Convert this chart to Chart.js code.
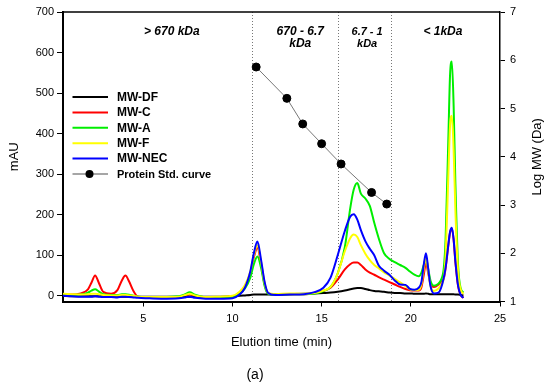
<!DOCTYPE html>
<html>
<head>
<meta charset="utf-8">
<title>Perfil de eluição</title>
<script src="https://cdn.jsdelivr.net/npm/chart.js@4.4.1/dist/chart.umd.min.js"></script>
<style>
    html, body { margin: 0; padding: 0; background: #fff; }
    canvas { display: block; }
</style>
</head>
<body>
<canvas id="grafico" width="550" height="390"></canvas>
<script>
// === Dados lidos do cromatograma ===
// tempos de eluição (min), comuns a todas as séries
const tempos = [0.5, 1.0, 1.5, 1.9, 2.1, 2.3, 2.5, 2.75, 3.2, 3.55,
    3.8, 4.0, 4.2, 4.45, 4.7, 5.2, 6.0, 7.0, 7.35, 7.6,
    7.9, 8.5, 9.3, 10.0, 10.4, 10.7, 11.0, 11.2, 11.4, 11.6,
    11.8, 12.0, 12.4, 13.2, 14.0, 14.6, 15.1, 15.5, 15.9, 16.3,
    16.6, 16.8, 17.0, 17.2, 17.45, 17.7, 17.95, 18.2, 18.5, 18.8,
    19.1, 19.4, 19.7, 19.95, 20.2, 20.45, 20.6, 20.72, 20.85, 20.98,
    21.1, 21.3, 21.55, 21.7, 21.85, 21.95, 22.1, 22.2, 22.3, 22.4,
    22.5, 22.65, 22.8, 22.95];

// absorvância (mAU)
const mwDF = [0, -1, -1, -1, -1, -1, -1, -1, -2, -2,
    -2, -2, -2, -2, -2, -2, -2, -2, -2, -2,
    -2, -2, -2, -1, 0, 1, 2, 3, 3, 3,
    3, 3, 3, 4, 5, 6, 7, 8, 10, 13,
    16, 18, 19, 19, 17, 14, 12, 11, 10, 8,
    7, 7, 6, 6, 5, 5, 5, 5, 6, 5,
    4, 4, 4, 4, 4, 4, 4, 4, 4, 4,
    3, 3, 2, 1];
const mwC = [3, 3, 6, 16, 33, 50, 33, 10, 5, 14,
    38, 50, 36, 12, -2, -4, -4, -3, 0, 3,
    -1, -4, -4, -3, 8, 24, 55, 95, 118, 80,
    30, 6, 3, 4, 4, 7, 12, 20, 40, 65,
    78, 82, 82, 76, 65, 57, 52, 46, 40, 34,
    28, 22, 17, 14, 13, 13, 22, 50, 80, 55,
    30, 22, 28, 35, 43, 68, 123, 156, 166, 138,
    83, 24, 2, -5];
const mwA = [2, 2, 3, 8, 13, 16, 11, 4, 2, 2,
    4, 4, 3, 0, -2, -3, -3, -1, 4, 9,
    3, -3, -3, -3, 5, 18, 45, 78, 97, 70,
    25, 5, 3, 4, 4, 6, 12, 22, 55, 120,
    215, 262, 278, 252, 240, 222, 180, 142, 105, 91,
    83, 76, 69, 60, 52, 48, 58, 75, 92, 65,
    38, 25, 30, 40, 69, 140, 380, 545, 578, 470,
    275, 75, 18, 8];
const mwF = [5, 4, 3, 4, 5, 5, 4, 2, 1, 1,
    2, 2, 1, 0, -2, -3, -3, -2, 2, 5,
    1, -3, -2, 0, 10, 26, 60, 100, 125, 85,
    32, 7, 4, 6, 5, 7, 13, 22, 55, 110,
    142, 151, 145, 125, 104, 88, 76, 68, 58, 50,
    42, 33, 24, 16, 14, 15, 30, 65, 95, 60,
    25, 12, 18, 28, 45, 100, 290, 420, 444, 360,
    210, 60, 15, 5];
const mwNEC = [0, -1, -2, -2, -2, -1, -2, -3, -3, -4,
    -2, -2, -3, -4, -5, -6, -7, -6, -4, -2,
    -5, -7, -7, -6, 3, 20, 60, 105, 134, 90,
    35, 7, 2, 3, 4, 9, 20, 45, 100, 160,
    195, 201, 188, 162, 135, 116, 100, 75, 62, 52,
    38, 28, 27, 17, 15, 20, 35, 75, 105, 65,
    25, 6, 8, 20, 45, 70, 125, 158, 168, 140,
    85, 25, 2, -5];

// curva padrão de proteínas (eixo direito, Log MW)
const curvaTempo = [11.33, 13.05, 13.94, 15.0, 16.09, 17.8, 18.65];
const curvaLogMW = [5.86, 5.21, 4.68, 4.27, 3.85, 3.26, 3.02];

// limites das faixas de massa molecular (min)
const divisoes = [11.1, 15.9, 18.9];
const faixas = [["> 670 kDa"], ["670 - 6.7", "kDa"], ["6.7 - 1", "kDa"], ["< 1kDa"]];

// marcas dos eixos
const xTicks = [5, 10, 15, 20, 25];
const yTicks = [0, 100, 200, 300, 400, 500, 600, 700];
const y2Ticks = [1, 2, 3, 4, 5, 6, 7];

Chart.defaults.font.family = "'Liberation Sans', Arial, sans-serif";
Chart.defaults.color = "#000";

function pontos(xs, ys) {
    return xs.map((x, i) => ({ x: x, y: ys[i] }));
}

function serie(label, valores, cor, ordem) {
    return {
        label: label,
        data: pontos(tempos, valores),
        borderColor: cor,
        backgroundColor: cor,
        borderWidth: 2,
        pointRadius: 0,
        fill: false,
        cubicInterpolationMode: "monotone",
        yAxisID: "y",
        order: ordem,
    };
}

// === Plugin para linhas pontilhadas, rótulos e legenda ===
const extras = {
    id: "extras",
    beforeDatasetsDraw(chart) {
        const { ctx, chartArea: a, scales } = chart;
        ctx.save();
        ctx.strokeStyle = "#777";
        ctx.lineWidth = 1;
        ctx.setLineDash([1, 2]);
        divisoes.forEach((t) => {
            const x = Math.round(scales.x.getPixelForValue(t)) + 0.5;
            ctx.beginPath();
            ctx.moveTo(x, a.top);
            ctx.lineTo(x, a.bottom);
            ctx.stroke();
        });
        ctx.restore();
    },
    afterDraw(chart) {
        const { ctx, chartArea: a, scales } = chart;
        ctx.save();

        // borda superior
        ctx.strokeStyle = "#000";
        ctx.lineWidth = 1.5;
        ctx.beginPath();
        ctx.moveTo(a.left, a.top);
        ctx.lineTo(a.right, a.top);
        ctx.stroke();

        // rótulos das faixas
        const posFaixas = [6.6, 13.8, 17.55, 21.8];
        ctx.fillStyle = "#000";
        ctx.textAlign = "center";
        ctx.textBaseline = "middle";
        faixas.forEach((linhas, i) => {
            ctx.font = (i === 2 ? "italic bold 11px " : "italic bold 12px ") + "'Liberation Sans', Arial, sans-serif";
            const x = scales.x.getPixelForValue(posFaixas[i]);
            linhas.forEach((txt, j) => ctx.fillText(txt, x, 32 + j * 11.5));
        });

        // legenda
        const legX = 72.5, legY = 97, passo = 15.4;
        ctx.textAlign = "left";
        chart.data.datasets.forEach((ds, i) => {
            const y = legY + i * passo;
            if (ds.yAxisID === "y2") {
                ctx.strokeStyle = "#888";
                ctx.lineWidth = 1.5;
                ctx.beginPath();
                ctx.moveTo(legX, y);
                ctx.lineTo(legX + 35.5, y);
                ctx.stroke();
                ctx.fillStyle = "#000";
                ctx.beginPath();
                ctx.arc(legX + 17, y, 4, 0, Math.PI * 2);
                ctx.fill();
                ctx.font = "bold 11px 'Liberation Sans', Arial, sans-serif";
            } else {
                ctx.strokeStyle = ds.borderColor;
                ctx.lineWidth = 2;
                ctx.beginPath();
                ctx.moveTo(legX, y);
                ctx.lineTo(legX + 35.5, y);
                ctx.stroke();
                ctx.font = "bold 12px 'Liberation Sans', Arial, sans-serif";
            }
            ctx.fillStyle = "#000";
            ctx.fillText(ds.label, 117, y + 0.5);
        });

        // título do eixo direito (de baixo para cima)
        ctx.font = "13px 'Liberation Sans', Arial, sans-serif";
        ctx.textAlign = "center";
        ctx.translate(537, (a.top + a.bottom) / 2);
        ctx.rotate(-Math.PI / 2);
        ctx.fillText("Log MW (Da)", 0, 0);
        ctx.setTransform(1, 0, 0, 1, 0, 0);

        // identificação do painel
        ctx.font = "14px 'Liberation Sans', Arial, sans-serif";
        ctx.fillText("(a)", 255, 375);
        ctx.restore();
    },
};

// === Gráfico ===
new Chart("grafico", {
    type: "line",
    data: {
        datasets: [
            serie("MW-DF", mwDF, "#000000", 3),
            serie("MW-C", mwC, "#ff0000", 4),
            serie("MW-A", mwA, "#00ee00", 2),
            serie("MW-F", mwF, "#ffff00", 1),
            serie("MW-NEC", mwNEC, "#0000ff", 0),
            {
                label: "Protein Std. curve",
                data: pontos(curvaTempo, curvaLogMW),
                borderColor: "#777",
                borderWidth: 1,
                pointRadius: 4,
                pointBackgroundColor: "#000",
                pointBorderColor: "#000",
                fill: false,
                tension: 0,
                yAxisID: "y2",
                order: -1,
            },
        ],
    },
    options: {
        responsive: false,
        animation: false,
        devicePixelRatio: 1,
        layout: { padding: { top: 12, left: 0, right: 0, bottom: 0 } },
        plugins: {
            legend: { display: false },
            tooltip: { enabled: false },
        },
        scales: {
            x: {
                type: "linear",
                min: 0.5,
                max: 25,
                afterBuildTicks: (s) => { s.ticks = xTicks.map((v) => ({ value: v })); },
                afterFit: (s) => { s.height = 88.5; },
                ticks: { font: { size: 11 }, padding: 6, maxRotation: 0 },
                grid: { drawOnChartArea: false, tickLength: 5, tickColor: "#000" },
                border: { color: "#000", width: 2 },
                title: {
                    display: true,
                    text: "Elution time (min)",
                    font: { size: 13 },
                    padding: { top: 0, bottom: 40 },
                },
            },
            y: {
                position: "left",
                min: -14,
                max: 700,
                afterBuildTicks: (s) => { s.ticks = yTicks.map((v) => ({ value: v })); },
                afterFit: (s) => { s.width = 63; },
                ticks: { font: { size: 11 }, padding: 3 },
                grid: { drawOnChartArea: false, tickLength: 6, tickColor: "#000" },
                border: { color: "#000", width: 2 },
                title: {
                    display: true,
                    text: "mAU",
                    font: { size: 13 },
                    padding: { top: 7, bottom: 0 },
                },
            },
            y2: {
                position: "right",
                min: 1,
                max: 7,
                afterBuildTicks: (s) => { s.ticks = y2Ticks.map((v) => ({ value: v })); },
                afterFit: (s) => { s.width = 50; },
                ticks: { font: { size: 11 }, padding: 5 },
                grid: { drawOnChartArea: false, tickLength: 5, tickColor: "#000" },
                border: { color: "#000", width: 1.5 },
            },
        },
    },
    plugins: [extras],
});
</script>
</body>
</html>
